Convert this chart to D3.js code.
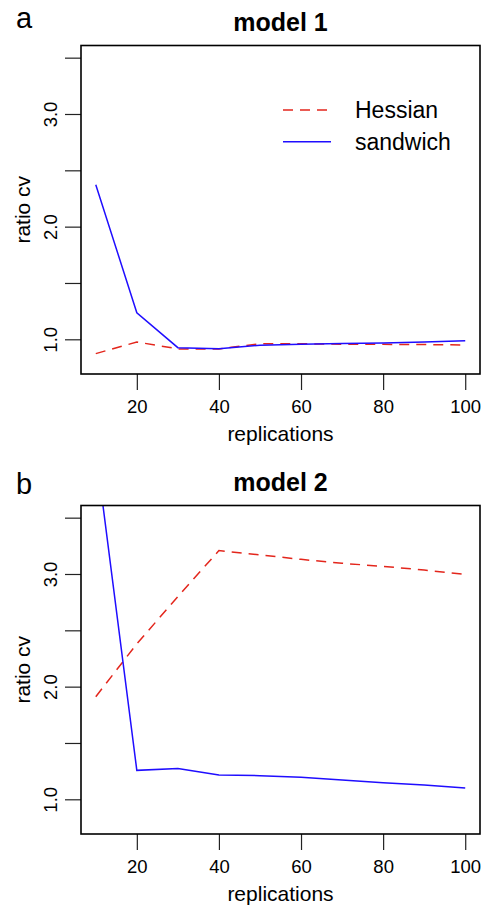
<!DOCTYPE html>
<html lang="en">
<head>
    <meta charset="UTF-8">
    <title>ratio cv vs replications</title>
    <script src="https://d3js.org/d3.v7.min.js"></script>
    <style>
        body {
            margin: 0;
            background: #fff;
        }
        svg text {
            font-family: "Liberation Sans", Arial, Helvetica, sans-serif;
            fill: #000;
        }
    </style>
</head>
<body>
    <div id="chart"></div>

    <script>
        // data
        var replications = [10, 20, 30, 40, 50, 60, 70, 80, 90, 100];
        var m1Hessian  = [0.873, 0.976, 0.915, 0.915, 0.961, 0.961, 0.956, 0.955, 0.953, 0.950];
        var m1Sandwich = [2.372, 1.236, 0.926, 0.917, 0.947, 0.957, 0.963, 0.968, 0.976, 0.988];
        var m2Hessian  = [1.911, 2.380, 2.800, 3.208, 3.170, 3.130, 3.095, 3.068, 3.035, 2.997];
        var m2Sandwich = [4.107, 1.257, 1.274, 1.216, 1.210, 1.195, 1.172, 1.148, 1.127, 1.100];

        var xTicks = [20, 40, 60, 80, 100];
        var yTicks = [1.0, 1.5, 2.0, 2.5, 3.0, 3.5];
        var yLabelled = [1.0, 2.0, 3.0];
        var seriesNames = ["Hessian", "sandwich"];

        var width = 486, height = 906;
        var box = { left: 81, right: 480, top: 45.5, bottom: 374 };
        var red = "#e3261c", blue = "#1f0dff";

        var svg = d3.select("#chart").append("svg")
            .attr("width", width)
            .attr("height", height);

        // same scales as R: 4% padding round xlim=c(10,100), ylim=c(0.8,3.5)
        var x = d3.scaleLinear().domain([6.4, 103.6]).range([box.left, box.right]);

        function drawPanel(letter, title, hess, sand, oy, showLegend, letterY) {
            var g = svg.append("g").attr("transform", "translate(0," + oy + ")");
            var y = d3.scaleLinear().domain([0.692, 3.608]).range([box.bottom, box.top]);

            var clipId = "clip" + letter;
            g.append("clipPath").attr("id", clipId)
                .append("rect")
                .attr("x", box.left).attr("y", box.top)
                .attr("width", box.right - box.left)
                .attr("height", box.bottom - box.top);

            // x axis
            var xa = g.append("g")
                .attr("transform", "translate(0," + box.bottom + ")")
                .call(d3.axisBottom(x).tickValues(xTicks).tickSize(16).tickPadding(8));
            xa.select(".domain").remove();
            xa.selectAll("line").attr("stroke", "#222").attr("stroke-width", 1.2);
            xa.selectAll("text")
                .attr("y", 38.7).attr("dy", 0)
                .style("font-size", "18.5px")
                .attr("fill", "#000");

            // y axis, labels rotated like R's las=0
            var ya = g.append("g")
                .attr("transform", "translate(" + box.left + ",0)")
                .call(d3.axisLeft(y).tickValues(yTicks).tickSize(16)
                    .tickFormat(function (d) { return yLabelled.indexOf(d) >= 0 ? d.toFixed(1) : ""; }));
            ya.select(".domain").remove();
            ya.selectAll("line").attr("stroke", "#222").attr("stroke-width", 1.2);
            ya.selectAll("text")
                .attr("transform", "rotate(-90)")
                .attr("x", 0).attr("y", -24).attr("dy", 0)
                .style("text-anchor", "middle")
                .style("font-size", "18.5px")
                .attr("fill", "#000");

            var line = d3.line()
                .x(function (d, i) { return x(replications[i]); })
                .y(function (d) { return y(d); });

            var plot = g.append("g").attr("clip-path", "url(#" + clipId + ")");
            plot.append("path")
                .datum(hess)
                .attr("d", line)
                .attr("fill", "none")
                .attr("stroke", red)
                .attr("stroke-width", 1.5)
                .attr("stroke-dasharray", "10,7");
            plot.append("path")
                .datum(sand)
                .attr("d", line)
                .attr("fill", "none")
                .attr("stroke", blue)
                .attr("stroke-width", 1.5);

            // box
            g.append("rect")
                .attr("x", box.left).attr("y", box.top)
                .attr("width", box.right - box.left)
                .attr("height", box.bottom - box.top)
                .attr("fill", "none")
                .attr("stroke", "#000")
                .attr("stroke-width", 1.6);

            // titles
            g.append("text")
                .attr("x", (box.left + box.right) / 2)
                .attr("y", 31)
                .style("text-anchor", "middle")
                .style("font-size", "25px")
                .style("font-weight", "bold")
                .text(title);

            g.append("text")
                .attr("x", 16)
                .attr("y", letterY)
                .style("font-size", "29px")
                .text(letter);

            g.append("text")
                .attr("x", (box.left + box.right) / 2)
                .attr("y", 440.5)
                .style("text-anchor", "middle")
                .style("font-size", "21px")
                .text("replications");

            g.append("text")
                .attr("transform", "translate(30," + ((box.top + box.bottom) / 2) + ") rotate(-90)")
                .style("text-anchor", "middle")
                .style("font-size", "21px")
                .text("ratio cv");

            if (showLegend) {
                var leg = g.append("g");
                var rows = [
                    { name: seriesNames[0], color: red, dash: "10,7", y: 110 },
                    { name: seriesNames[1], color: blue, dash: null, y: 141.7 }
                ];
                rows.forEach(function (r) {
                    leg.append("line")
                        .attr("x1", 283).attr("x2", 331)
                        .attr("y1", r.y).attr("y2", r.y)
                        .attr("stroke", r.color)
                        .attr("stroke-width", 1.5)
                        .attr("stroke-dasharray", r.dash);
                    leg.append("text")
                        .attr("x", 355)
                        .attr("y", r.y + 8.3)
                        .style("font-size", "23px")
                        .text(r.name);
                });
            }
        }

        drawPanel("a", "model 1", m1Hessian, m1Sandwich, 0, true, 28);
        drawPanel("b", "model 2", m2Hessian, m2Sandwich, 460, false, 34);
    </script>
</body>
</html>
